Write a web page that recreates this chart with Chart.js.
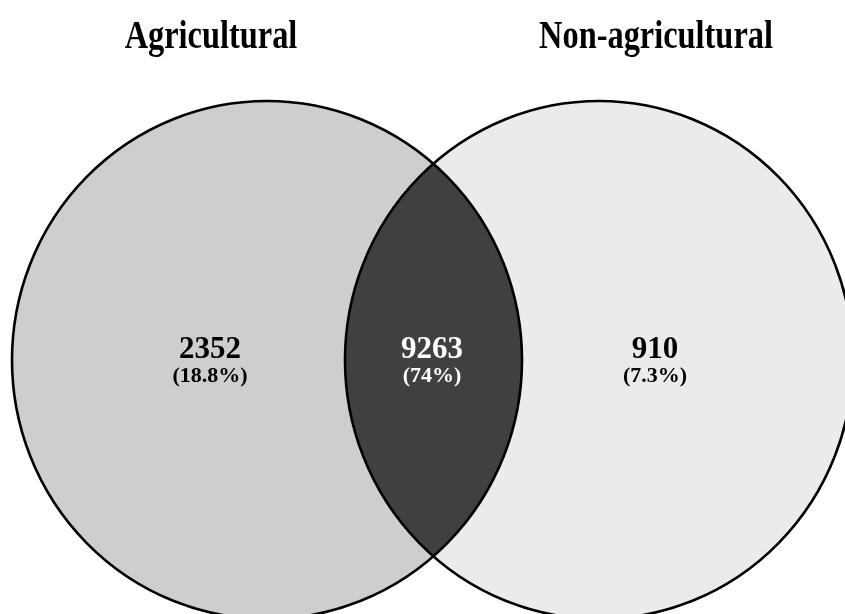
<!DOCTYPE html>
<html><head><meta charset="utf-8">
<script src="https://cdn.jsdelivr.net/npm/chart.js@4/dist/chart.umd.min.js"></script>
<style>html,body{margin:0;padding:0;background:#fff}#wrap{width:845px;height:614px;position:relative}</style>
</head><body><div id="wrap"><canvas id="c" width="845" height="614"></canvas></div>
<script>
// ---- data ----
const setNames = ['Agricultural', 'Non-agricultural'];
const regionNames = ['Agricultural only', 'Both', 'Non-agricultural only'];
const regionCounts = [2352, 9263, 910];
const regionPercents = ['18.8%', '74%', '7.3%'];

// ---- layout (axis units match the 845x614 frame) ----
const circles = [
  {cx: 267, cy: 360, rx: 255, ry: 259, fill: '#cecece'},
  {cx: 599, cy: 360, rx: 254, ry: 259, fill: '#ebebeb'}
];
const overlapFill = '#404040';
const regionAnchorX = [210, 432, 655];
const regionAnchorY = 360;
const titleX = [211, 656];
const titleY = 48;

function ellipsePath(ctx, sx, sy, c) {
  const x = sx.getPixelForValue(c.cx), y = sy.getPixelForValue(c.cy);
  const rx = Math.abs(sx.getPixelForValue(c.cx + c.rx) - x);
  const ry = Math.abs(sy.getPixelForValue(c.cy + c.ry) - y);
  ctx.beginPath();
  ctx.ellipse(x, y, rx, ry, 0, 0, Math.PI * 2);
}

const vennPlugin = {
  id: 'venn',
  beforeDatasetsDraw(chart) {
    const ctx = chart.ctx, sx = chart.scales.x, sy = chart.scales.y;
    ctx.save();
    circles.forEach(c => { ellipsePath(ctx, sx, sy, c); ctx.fillStyle = c.fill; ctx.fill(); });
    ctx.save();
    ellipsePath(ctx, sx, sy, circles[0]); ctx.clip();
    ellipsePath(ctx, sx, sy, circles[1]); ctx.fillStyle = overlapFill; ctx.fill();
    ctx.restore();
    ctx.lineWidth = 2.6; ctx.strokeStyle = '#000';
    circles.forEach(c => { ellipsePath(ctx, sx, sy, c); ctx.stroke(); });
    // set titles
    ctx.fillStyle = '#000';
    ctx.font = 'bold 41px "Liberation Serif", "Times New Roman", serif';
    ctx.textAlign = 'center'; ctx.textBaseline = 'alphabetic';
    setNames.forEach((n, i) => {
      ctx.save();
      ctx.translate(sx.getPixelForValue(titleX[i]), sy.getPixelForValue(titleY));
      ctx.scale(0.79, 1);
      ctx.fillText(n, 0, 0);
      ctx.restore();
    });
    ctx.restore();
  },
  afterDatasetsDraw(chart) {
    const ctx = chart.ctx;
    const meta = chart.getDatasetMeta(0);
    ctx.save();
    ctx.textAlign = 'center'; ctx.textBaseline = 'alphabetic';
    meta.data.forEach((pt, i) => {
      ctx.fillStyle = i === 1 ? '#ffffff' : '#000000';
      ctx.font = 'bold 31px "Liberation Serif", "Times New Roman", serif';
      ctx.fillText(String(regionCounts[i]), pt.x, pt.y - 2);
      ctx.font = 'bold 22px "Liberation Serif", "Times New Roman", serif';
      ctx.fillText('(' + regionPercents[i] + ')', pt.x, pt.y + 22);
    });
    ctx.restore();
  }
};

new Chart(document.getElementById('c'), {
  type: 'scatter',
  data: {
    datasets: [{
      label: 'Regions',
      data: regionCounts.map((v, i) => ({x: regionAnchorX[i], y: regionAnchorY, v: v, name: regionNames[i]})),
      pointRadius: 0, pointHoverRadius: 0
    }]
  },
  options: {
    responsive: false, animation: false, devicePixelRatio: 1,
    layout: {padding: 0},
    scales: {
      x: {type: 'linear', min: 0, max: 845, display: false},
      y: {type: 'linear', min: 0, max: 614, reverse: true, display: false}
    },
    plugins: {legend: {display: false}, tooltip: {enabled: false}, title: {display: false}}
  },
  plugins: [vennPlugin]
});
</script></body></html>
